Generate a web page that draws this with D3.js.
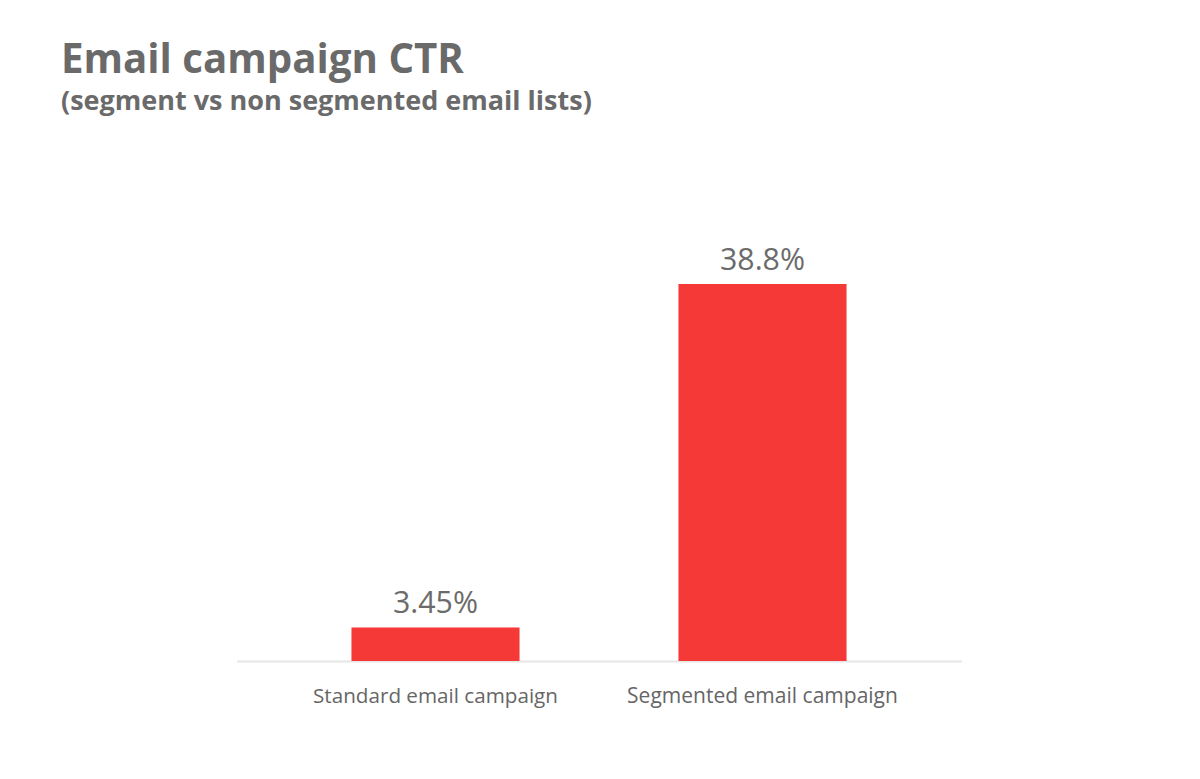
<!DOCTYPE html>
<html>
<head>
<meta charset="utf-8">
<script src="https://cdn.jsdelivr.net/npm/d3@7"></script>
<style>
  html, body { margin: 0; padding: 0; background: #ffffff; }
  svg { display: block; }
</style>
</head>
<body>
<svg id="chart" width="1200" height="779"></svg>
<script>
const titleText = "Email campaign CTR";
const subtitleText = "(segment vs non segmented email lists)";
const categories = ["Standard email campaign", "Segmented email campaign"];
const values = [3.45, 38.8];
const valueLabels = ["3.45%", "38.8%"];

const svg = d3.select("#chart");
const font = "'Open Sans', Lato, sans-serif";
const textColor = "#6b6b6b";

// scale a text's font size so its rendered width matches the target width
function fit(sel, targetWidth) {
  sel.each(function() {
    const el = d3.select(this);
    const fs = parseFloat(el.attr("font-size"));
    const w = this.getComputedTextLength();
    if (w > 0) el.attr("font-size", (fs * targetWidth / w).toFixed(2));
  });
}

svg.append("text")
  .attr("x", 61).attr("y", 73)
  .attr("font-family", font).attr("font-weight", 700)
  .attr("font-size", 36).attr("fill", "#6a6a6a")
  .text(titleText)
  .call(fit, 403);

svg.append("text")
  .attr("x", 61).attr("y", 110)
  .attr("font-family", font).attr("font-weight", 700)
  .attr("font-size", 23).attr("fill", "#6a6a6a")
  .text(subtitleText)
  .call(fit, 531);

const x = d3.scaleBand()
  .domain(categories)
  .range([272, 926])
  .paddingInner(0.486)
  .paddingOuter(0.243);

const y = d3.scaleLinear()
  .domain([0, 38.8])
  .range([661, 284]);

const data = categories.map((c, i) => ({cat: c, v: values[i], label: valueLabels[i]}));

// baseline
svg.append("line")
  .attr("x1", 237).attr("x2", 962)
  .attr("y1", y(0) + 0.5).attr("y2", y(0) + 0.5)
  .attr("stroke", "#e6e6e6").attr("stroke-width", 2);

svg.selectAll("rect.bar").data(data).enter().append("rect")
  .attr("class", "bar")
  .attr("x", d => x(d.cat))
  .attr("width", x.bandwidth())
  .attr("y", d => y(d.v))
  .attr("height", d => y(0) - y(d.v))
  .attr("fill", "#f53936");

svg.selectAll("text.val").data(data).enter().append("text")
  .attr("class", "val")
  .attr("x", d => x(d.cat) + x.bandwidth() / 2)
  .attr("y", d => y(d.v) - 14)
  .attr("text-anchor", "middle")
  .attr("font-family", font).attr("font-size", 25)
  .attr("fill", textColor)
  .text(d => d.label)
  .call(fit, 85);

// category axis labels
const axis = d3.axisBottom(x).tickSize(0).tickPadding(0);
const gx = svg.append("g").attr("transform", `translate(0, ${y(0)})`).call(axis);
gx.select(".domain").remove();
gx.selectAll(".tick text")
  .attr("y", 42)
  .attr("dy", null)
  .attr("font-family", font).attr("font-size", 19.5)
  .attr("fill", "#666666");
gx.selectAll(".tick text").filter((d, i) => i === 0).call(fit, 245);
gx.selectAll(".tick text").filter((d, i) => i === 1).call(fit, 271);
</script>
</body>
</html>
